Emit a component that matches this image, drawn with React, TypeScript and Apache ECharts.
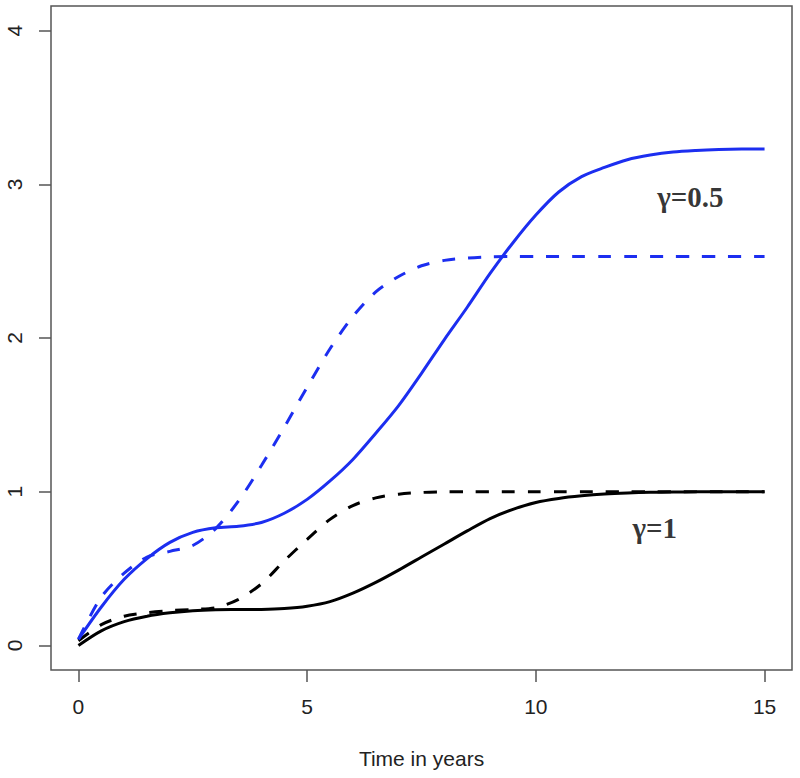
import React, { useEffect, useRef } from "react";
import * as echarts from "echarts";

const timeX = [0, 0.5, 1, 1.5, 2, 2.5, 3, 3.5, 4, 4.5, 5, 5.5, 6, 6.5, 7, 7.5, 8, 8.5, 9, 9.5, 10, 10.5, 11, 11.5, 12, 12.5, 13, 13.5, 14, 14.5, 15];

const blackSolidY = [0, 0.095, 0.155, 0.19, 0.212, 0.226, 0.232, 0.233, 0.234, 0.24, 0.255, 0.285, 0.34, 0.41, 0.49, 0.575, 0.66, 0.745, 0.825, 0.885, 0.93, 0.956, 0.973, 0.985, 0.992, 0.996, 0.998, 0.999, 1.0, 1.0, 1.0];

const blackDashedY = [0.03, 0.135, 0.19, 0.213, 0.226, 0.234, 0.245, 0.3, 0.4, 0.55, 0.69, 0.82, 0.91, 0.96, 0.984, 0.995, 0.999, 1.0, 1.0, 1.0, 1.0, 1.0, 1.0, 1.0, 1.0, 1.0, 1.0, 1.0, 1.0, 1.0, 1.0];

const blueSolidY = [0.04, 0.25, 0.43, 0.565, 0.67, 0.735, 0.765, 0.775, 0.8, 0.86, 0.95, 1.07, 1.21, 1.38, 1.56, 1.77, 1.99, 2.2, 2.42, 2.62, 2.8, 2.95, 3.05, 3.11, 3.16, 3.19, 3.21, 3.22, 3.226, 3.229, 3.23];

const blueDashedY = [0.04, 0.315, 0.47, 0.575, 0.612, 0.65, 0.76, 0.94, 1.17, 1.42, 1.68, 1.93, 2.14, 2.3, 2.4, 2.47, 2.505, 2.52, 2.528, 2.53, 2.53, 2.53, 2.53, 2.53, 2.53, 2.53, 2.53, 2.53, 2.53, 2.53, 2.53];

const xTicks = [0, 5, 10, 15];
const yTicks = [0, 1, 2, 3, 4];
const annotationText = ["γ=0.5", "γ=1"];
const annotationX = [13.38, 12.6];
const annotationY = [2.92, 0.765];

const xAxisTitle = "Time in years";

const zip = (xs: number[], ys: number[]) => xs.map((x, i) => [x, ys[i]]);

const BLUE = "#1c2ef0";
const BLACK = "#000000";
const AXIS = "#555555";

export default function App() {
  const ref = useRef<HTMLDivElement>(null);
  useEffect(() => {
    document.body.style.margin = "0";
    if (!ref.current) return;
    const chart = echarts.init(ref.current, null, { renderer: "svg" });
    const lineSeries = (data: number[][], color: string, dashed: boolean) => ({
      type: "line",
      data,
      showSymbol: false,
      symbol: "none",
      smooth: 0.3,
      lineStyle: {
        color,
        width: 3,
        type: dashed ? [13, 13] : "solid",
        cap: "butt",
      },
      z: 3,
    });
    chart.setOption({
      animation: false,
      backgroundColor: "#ffffff",
      grid: {
        left: 51,
        top: 6,
        width: 741,
        height: 664,
        show: true,
        borderColor: AXIS,
        borderWidth: 1.5,
        backgroundColor: "transparent",
      },
      xAxis: {
        type: "value",
        min: -0.6,
        max: 15.6,
        axisLine: { show: false, onZero: false },
        splitLine: { show: false },
        axisTick: {
          show: true,
          inside: false,
          length: 12,
          customValues: xTicks,
          lineStyle: { color: AXIS, width: 1.5 },
        },
        axisLabel: {
          show: true,
          customValues: xTicks,
          margin: 26,
          fontSize: 21,
          color: "#222222",
          fontFamily: "Liberation Sans, Arial, sans-serif",
        },
        name: xAxisTitle,
        nameLocation: "middle",
        nameGap: 78,
        nameTextStyle: {
          fontSize: 21,
          color: "#222222",
          fontFamily: "Liberation Sans, Arial, sans-serif",
        },
      },
      yAxis: {
        type: "value",
        min: -0.16,
        max: 4.16,
        axisLine: { show: false, onZero: false },
        splitLine: { show: false },
        axisTick: {
          show: true,
          inside: false,
          length: 12,
          customValues: yTicks,
          lineStyle: { color: AXIS, width: 1.5 },
        },
        axisLabel: {
          show: true,
          customValues: yTicks,
          rotate: 90,
          margin: 26,
          fontSize: 21,
          color: "#222222",
          fontFamily: "Liberation Sans, Arial, sans-serif",
        },
      },
      series: [
        lineSeries(zip(timeX, blackSolidY), BLACK, false),
        lineSeries(zip(timeX, blackDashedY), BLACK, true),
        lineSeries(zip(timeX, blueSolidY), BLUE, false),
        lineSeries(zip(timeX, blueDashedY), BLUE, true),
        {
          type: "scatter",
          symbolSize: 0,
          data: annotationText.map((t, i) => ({ value: [annotationX[i], annotationY[i]], name: t })),
          label: {
            show: true,
            position: "inside",
            formatter: (p: any) => p.name,
            fontSize: 29,
            fontWeight: "bold",
            color: "#000000",
            fontFamily: "Liberation Serif, Times New Roman, serif",
          },
          z: 5,
        },
      ],
    });
    return () => chart.dispose();
  }, []);
  return <div ref={ref} style={{ width: 800, height: 778 }} />;
}
